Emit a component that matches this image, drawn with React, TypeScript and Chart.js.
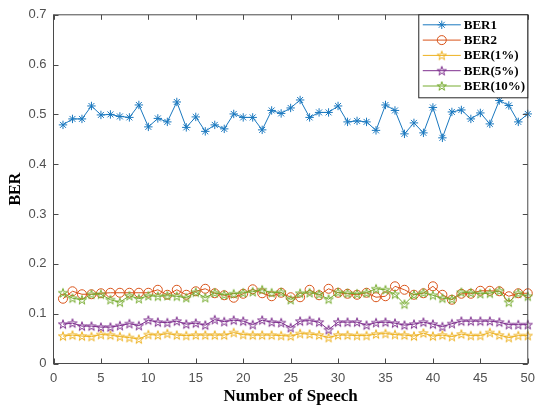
import React, { useEffect, useRef } from 'react';
import { Chart, registerables } from 'chart.js';

Chart.register(...registerables);

const speech = [1, 2, 3, 4, 5, 6, 7, 8, 9, 10, 11, 12, 13, 14, 15, 16, 17, 18, 19, 20, 21, 22, 23, 24, 25, 26, 27, 28, 29, 30, 31, 32, 33, 34, 35, 36, 37, 38, 39, 40, 41, 42, 43, 44, 45, 46, 47, 48, 49, 50];
const xTickLabels = ['0', '5', '10', '15', '20', '25', '30', '35', '40', '45', '50'];
const yTickLabels = ['0', '0.1', '0.2', '0.3', '0.4', '0.5', '0.6', '0.7'];
const seriesNames = ['BER1', 'BER2', 'BER(1%)', 'BER(5%)', 'BER(10%)'];

const ber1 = [0.479, 0.491, 0.491, 0.517, 0.499, 0.500, 0.496, 0.494, 0.519, 0.475,
  0.492, 0.485, 0.525, 0.474, 0.495, 0.466, 0.479, 0.471, 0.501, 0.494,
  0.494, 0.469, 0.508, 0.502, 0.513, 0.529, 0.494, 0.504, 0.504, 0.517,
  0.485, 0.487, 0.485, 0.468, 0.519, 0.508, 0.461, 0.483, 0.463, 0.514,
  0.453, 0.505, 0.509, 0.491, 0.503, 0.481, 0.528, 0.518, 0.485, 0.501];
const ber2 = [0.130, 0.145, 0.139, 0.139, 0.141, 0.142, 0.142, 0.142, 0.142, 0.142,
  0.148, 0.138, 0.148, 0.138, 0.145, 0.150, 0.141, 0.137, 0.132, 0.140,
  0.149, 0.141, 0.135, 0.142, 0.133, 0.133, 0.148, 0.137, 0.150, 0.142,
  0.140, 0.138, 0.142, 0.133, 0.135, 0.155, 0.148, 0.138, 0.141, 0.155,
  0.138, 0.128, 0.140, 0.140, 0.146, 0.146, 0.145, 0.135, 0.141, 0.141];
const ber1pct = [0.055, 0.057, 0.055, 0.054, 0.058, 0.057, 0.054, 0.052, 0.049, 0.058,
  0.057, 0.060, 0.057, 0.056, 0.057, 0.057, 0.057, 0.057, 0.062, 0.058,
  0.057, 0.057, 0.057, 0.056, 0.055, 0.060, 0.059, 0.057, 0.052, 0.057,
  0.057, 0.056, 0.056, 0.059, 0.060, 0.058, 0.057, 0.055, 0.061, 0.055,
  0.057, 0.054, 0.059, 0.056, 0.056, 0.062, 0.057, 0.052, 0.056, 0.056];
const ber5pct = [0.079, 0.081, 0.075, 0.075, 0.073, 0.073, 0.076, 0.080, 0.076, 0.087,
  0.083, 0.082, 0.085, 0.079, 0.081, 0.077, 0.088, 0.084, 0.087, 0.085,
  0.078, 0.087, 0.083, 0.082, 0.072, 0.085, 0.086, 0.083, 0.068, 0.083,
  0.083, 0.083, 0.077, 0.082, 0.083, 0.081, 0.077, 0.079, 0.083, 0.079,
  0.074, 0.080, 0.085, 0.085, 0.085, 0.085, 0.083, 0.078, 0.078, 0.078];
const ber10pct = [0.142, 0.131, 0.128, 0.139, 0.139, 0.128, 0.123, 0.136, 0.130, 0.136,
  0.135, 0.136, 0.135, 0.132, 0.143, 0.132, 0.142, 0.138, 0.140, 0.142,
  0.144, 0.148, 0.142, 0.143, 0.128, 0.141, 0.142, 0.139, 0.129, 0.143,
  0.141, 0.140, 0.142, 0.150, 0.148, 0.139, 0.119, 0.138, 0.142, 0.137,
  0.131, 0.129, 0.143, 0.142, 0.140, 0.141, 0.146, 0.123, 0.141, 0.135];

const seriesValues = [ber1, ber2, ber1pct, ber5pct, ber10pct];
const seriesColors = ['#1a78bf', '#D95319', '#EDB120', '#7E2F8E', '#77AC30'];
const AXIS = '#4a4a4a';
const TICK_TEXT = '#505050';

function makePentagram(color: string): HTMLCanvasElement {
  const size = 12;
  const c = document.createElement('canvas');
  c.width = size;
  c.height = size;
  const ctx = c.getContext('2d')!;
  const cx = size / 2;
  const cy = size / 2 + 0.4;
  const R = 4.8;
  const r = R * 0.382;
  ctx.beginPath();
  for (let k = 0; k < 10; k++) {
    const ang = -Math.PI / 2 + (k * Math.PI) / 5;
    const rad = k % 2 === 0 ? R : r;
    const px = cx + rad * Math.cos(ang);
    const py = cy + rad * Math.sin(ang);
    if (k === 0) ctx.moveTo(px, py);
    else ctx.lineTo(px, py);
  }
  ctx.closePath();
  ctx.strokeStyle = color;
  ctx.lineWidth = 1;
  ctx.stroke();
  return c;
}

function drawMarker(ctx: CanvasRenderingContext2D, style: any, color: string, x: number, y: number, radius: number) {
  ctx.save();
  ctx.strokeStyle = color;
  ctx.lineWidth = 1;
  if (style === 'star') {
    ctx.beginPath();
    for (let k = 0; k < 4; k++) {
      const a = (k * Math.PI) / 4;
      ctx.moveTo(x - radius * Math.cos(a), y - radius * Math.sin(a));
      ctx.lineTo(x + radius * Math.cos(a), y + radius * Math.sin(a));
    }
    ctx.stroke();
  } else if (style === 'circle') {
    ctx.beginPath();
    ctx.arc(x, y, radius, 0, Math.PI * 2);
    ctx.stroke();
  } else if (style instanceof HTMLCanvasElement) {
    ctx.drawImage(style, x - style.width / 2, y - style.height / 2);
  }
  ctx.restore();
}

const framePlugin = {
  id: 'matlabFrame',
  afterDatasetsDraw(chart: any) {
    const { ctx, chartArea } = chart;
    const { left, right, top, bottom } = chartArea;
    const xs = chart.scales.x;
    const ys = chart.scales.y;
    const tl = 5;
    ctx.save();
    ctx.strokeStyle = AXIS;
    ctx.lineWidth = 1;
    ctx.beginPath();
    xs.ticks.forEach((t: any) => {
      const px = Math.round(xs.getPixelForValue(t.value)) + 0.5;
      ctx.moveTo(px, bottom);
      ctx.lineTo(px, bottom - tl);
      ctx.moveTo(px, top);
      ctx.lineTo(px, top + tl);
    });
    ys.ticks.forEach((t: any) => {
      const py = Math.round(ys.getPixelForValue(t.value)) + 0.5;
      ctx.moveTo(left, py);
      ctx.lineTo(left + tl, py);
      ctx.moveTo(right, py);
      ctx.lineTo(right - tl, py);
    });
    ctx.stroke();
    ctx.strokeRect(left, top, right - left, bottom - top);
    ctx.restore();
  },
};

const legendPlugin = {
  id: 'matlabLegend',
  afterDraw(chart: any) {
    const { ctx, chartArea } = chart;
    const w = 109;
    const h = 83;
    const x0 = chartArea.right - w;
    const y0 = chartArea.top;
    ctx.save();
    ctx.fillStyle = '#ffffff';
    ctx.fillRect(x0, y0, w, h);
    ctx.strokeStyle = '#262626';
    ctx.lineWidth = 1;
    ctx.strokeRect(x0, y0, w, h);
    ctx.font = 'bold 13px "Liberation Serif", "Times New Roman", serif';
    ctx.textBaseline = 'middle';
    ctx.textAlign = 'left';
    chart.data.datasets.forEach((ds: any, i: number) => {
      const y = y0 + 10 + i * 15.3;
      ctx.strokeStyle = ds.borderColor;
      ctx.lineWidth = 1;
      ctx.beginPath();
      ctx.moveTo(x0 + 4, y);
      ctx.lineTo(x0 + 42, y);
      ctx.stroke();
      drawMarker(ctx, ds.pointStyle, ds.borderColor, x0 + 23, y, ds.pointRadius);
      ctx.fillStyle = '#000000';
      ctx.fillText(ds.label, x0 + 45, y + 0.5);
    });
    ctx.restore();
  },
};

export default function App() {
  const ref = useRef<HTMLCanvasElement | null>(null);

  useEffect(() => {
    if (!ref.current) return;
    const styles: any[] = ['star', 'circle', makePentagram(seriesColors[2]), makePentagram(seriesColors[3]), makePentagram(seriesColors[4])];
    const radii = [4.2, 4.5, 5, 5, 5];
    const datasets = seriesNames.map((name, i) => ({
      label: name,
      data: seriesValues[i].map((v, k) => ({ x: speech[k], y: v })),
      borderColor: seriesColors[i],
      backgroundColor: 'rgba(0,0,0,0)',
      pointBackgroundColor: 'rgba(0,0,0,0)',
      pointBorderColor: seriesColors[i],
      pointStyle: styles[i],
      pointRadius: radii[i],
      pointBorderWidth: 1,
      borderWidth: 1,
      tension: 0,
      fill: false,
      clip: false as any,
      order: seriesNames.length - i,
    }));

    const chart = new Chart(ref.current, {
      type: 'line',
      data: { datasets },
      plugins: [framePlugin, legendPlugin],
      options: {
        animation: false,
        responsive: false,
        maintainAspectRatio: false,
        events: [],
        layout: { padding: { left: 0, right: 7.5, top: 11.5, bottom: 0 } },
        plugins: {
          legend: { display: false },
          tooltip: { enabled: false },
        },
        scales: {
          x: {
            type: 'linear',
            min: 0,
            max: 50,
            afterBuildTicks: (scale: any) => {
              scale.ticks = xTickLabels.map((l) => ({ value: Number(l) }));
            },
            afterFit: (scale: any) => {
              scale.height = 43.5;
            },
            grid: { display: false, drawTicks: false },
            border: { display: false },
            ticks: {
              autoSkip: false,
              maxRotation: 0,
              padding: 7,
              color: TICK_TEXT,
              font: { family: '"Liberation Sans", Arial, sans-serif', size: 13 },
              callback: (_v: any, i: number) => xTickLabels[i],
            },
            title: {
              display: true,
              text: 'Number of Speech',
              color: '#000000',
              font: { family: '"Liberation Serif", "Times New Roman", serif', size: 17, weight: 'bold' },
              padding: { top: 0, bottom: 0 },
            },
          },
          y: {
            type: 'linear',
            min: 0,
            max: 0.7,
            afterBuildTicks: (scale: any) => {
              scale.ticks = yTickLabels.map((l) => ({ value: Number(l) }));
            },
            afterFit: (scale: any) => {
              scale.width = 53.5;
            },
            grid: { display: false, drawTicks: false },
            border: { display: false },
            ticks: {
              autoSkip: false,
              padding: 7,
              color: TICK_TEXT,
              font: { family: '"Liberation Sans", Arial, sans-serif', size: 13 },
              callback: (_v: any, i: number) => yTickLabels[i],
            },
            title: {
              display: true,
              text: 'BER',
              color: '#000000',
              font: { family: '"Liberation Serif", "Times New Roman", serif', size: 16, weight: 'bold' },
              padding: { top: 6, bottom: 0 },
            },
          },
        },
      },
    });
    return () => chart.destroy();
  }, []);

  return (
    <div style={{ position: 'absolute', left: 0, top: 0, width: 542, height: 407, background: '#ffffff' }}>
      <canvas ref={ref} width={542} height={407} style={{ display: 'block' }} />
    </div>
  );
}
